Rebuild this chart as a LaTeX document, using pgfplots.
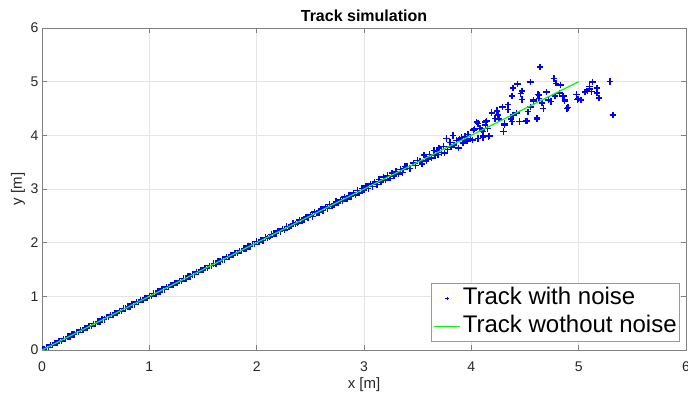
\documentclass[border=0pt]{standalone}
\usepackage{fontspec}
\setmainfont{Liberation Sans}
\usepackage{pgfplots}
\pgfplotsset{compat=1.18}
\usepackage{pgfplotstable}

\pgfplotsset{
  markleg/.style={legend image code/.code={\draw[mark repeat=2, mark phase=2, ##1, mark size=1.8pt, mark options={line width=0.9pt}] plot coordinates {(0pt,0pt) (13pt,0pt) (26pt,0pt)};}},
  lineleg/.style={legend image code/.code={\draw[##1] (0pt,0pt) -- (26pt,0pt);}},
}

\pgfplotstableread{
x y
0.00 0.01
0.02 0.01
0.04 0.05
0.06 0.05
0.08 0.09
0.10 0.09
0.12 0.13
0.14 0.13
0.16 0.17
0.18 0.17
0.20 0.21
0.22 0.21
0.24 0.25
0.26 0.25
0.28 0.29
0.30 0.29
0.32 0.33
0.34 0.33
0.36 0.37
0.38 0.37
0.40 0.41
0.42 0.41
0.44 0.45
0.46 0.45
0.48 0.49
0.50 0.49
0.52 0.53
0.54 0.53
0.56 0.57
0.58 0.57
0.60 0.61
0.62 0.61
0.64 0.65
0.66 0.65
0.68 0.69
0.70 0.69
0.72 0.73
0.74 0.73
0.76 0.77
0.78 0.77
0.80 0.81
0.82 0.81
0.84 0.85
0.86 0.85
0.88 0.89
0.90 0.89
0.92 0.93
0.94 0.93
0.96 0.97
0.98 0.97
1.00 1.01
1.02 1.01
1.04 1.05
1.06 1.05
1.08 1.09
1.10 1.09
1.12 1.13
1.14 1.13
1.16 1.17
1.18 1.17
1.20 1.21
1.22 1.21
1.24 1.25
1.26 1.25
1.28 1.29
1.30 1.29
1.32 1.33
1.34 1.33
1.36 1.37
1.38 1.37
1.40 1.41
1.42 1.41
1.44 1.45
1.46 1.45
1.48 1.49
1.50 1.49
1.52 1.53
1.54 1.53
1.56 1.57
1.58 1.57
1.60 1.61
1.62 1.61
1.64 1.65
1.66 1.65
1.68 1.69
1.70 1.69
1.72 1.73
1.74 1.73
1.76 1.77
1.78 1.77
1.80 1.81
1.82 1.81
1.84 1.85
1.86 1.85
1.88 1.89
1.90 1.89
1.92 1.93
1.94 1.93
1.96 1.97
1.98 1.97
2.00 2.02
2.02 2.01
2.04 2.05
2.06 2.04
2.08 2.10
2.10 2.09
2.12 2.11
2.14 2.15
2.16 2.17
2.18 2.17
2.20 2.22
2.22 2.21
2.24 2.25
2.26 2.24
2.28 2.30
2.30 2.29
2.32 2.31
2.34 2.36
2.36 2.35
2.38 2.37
2.40 2.42
2.42 2.41
2.44 2.43
2.46 2.48
2.48 2.47
2.50 2.52
2.52 2.49
2.54 2.57
2.56 2.55
2.58 2.56
2.60 2.63
2.62 2.60
2.64 2.66
2.66 2.64
2.68 2.71
2.70 2.68
2.72 2.70
2.74 2.77
2.76 2.74
2.78 2.80
2.80 2.78
2.82 2.85
2.84 2.81
2.86 2.88
2.88 2.86
2.90 2.93
2.92 2.89
2.94 2.97
2.96 2.93
2.98 3.01
3.00 2.98
3.02 3.06
3.04 3.01
3.06 3.09
3.08 3.05
3.10 3.13
3.12 3.08
3.14 3.18
3.16 3.13
3.18 3.22
3.20 3.17
3.22 3.25
3.24 3.20
3.26 3.30
3.28 3.24
3.30 3.33
3.32 3.28
3.34 3.36
3.36 3.31
3.37 3.37
3.38 3.42
3.40 3.42
3.43 3.38
3.46 3.48
3.48 3.44
3.50 3.53
3.52 3.52
3.54 3.47
3.56 3.63
3.58 3.60
3.58 3.52
3.60 3.56
3.61 3.64
3.63 3.58
3.65 3.72
3.66 3.62
3.68 3.70
3.69 3.64
3.70 3.76
3.72 3.68
3.74 3.79
3.75 3.67
3.77 3.94
3.78 3.74
3.80 3.87
3.81 3.78
3.83 4.00
3.84 3.82
3.86 3.90
3.88 3.76
3.89 3.93
3.91 3.96
3.92 3.86
3.94 3.98
3.96 3.89
3.97 4.02
3.99 3.93
4.01 3.91
4.02 4.10
4.03 4.12
4.05 4.25
4.06 4.22
4.06 3.94
4.08 4.13
4.10 4.10
4.11 4.07
4.11 3.96
4.11 3.99
4.13 4.19
4.13 4.25
4.14 4.27
4.15 4.13
4.16 3.98
4.17 3.99
4.19 4.42
4.19 4.43
4.22 4.31
4.24 4.45
4.24 4.46
4.25 4.38
4.26 4.30
4.29 4.53
4.30 4.07
4.31 4.22
4.31 4.19
4.34 4.57
4.34 4.48
4.37 4.30
4.38 4.73
4.38 4.26
4.39 4.88
4.39 4.38
4.42 4.42
4.43 4.96
4.45 4.26
4.46 4.78
4.47 4.83
4.47 4.67
4.51 4.27
4.52 4.27
4.53 4.44
4.55 4.99
4.55 4.53
4.58 4.63
4.58 4.66
4.61 4.30
4.61 4.32
4.62 4.76
4.63 4.75
4.63 4.69
4.64 5.27
4.66 4.60
4.67 4.50
4.70 4.81
4.72 4.66
4.74 4.63
4.77 5.06
4.78 4.73
4.79 4.97
4.82 4.79
4.83 4.94
4.85 4.73
4.86 4.73
4.87 4.64
4.87 4.67
4.89 4.50
4.90 4.52
4.98 4.76
4.99 4.67
5.00 4.68
5.02 4.66
5.06 4.81
5.08 4.83
5.10 4.86
5.10 4.91
5.12 4.82
5.13 4.99
5.17 4.79
5.17 4.88
5.19 4.70
5.29 5.00
5.32 4.38
}\noisy

\pgfplotstableread{
x y
0 0
5 5
}\clean

\begin{document}
\begin{tikzpicture}
\begin{axis}[
  at={(0,0)}, anchor=south west,
  scale only axis, width=644pt, height=322pt,
  xmin=0, xmax=6, ymin=0, ymax=6,
  xtick={0,1,2,3,4,5,6}, ytick={0,1,2,3,4,5,6},
  tick pos=both,
  clip marker paths=true,
  grid=major,
  major grid style={color=black!10, line width=0.5pt},
  axis line style={color=black!50, line width=0.6pt},
  tick style={color=black!50, line width=0.6pt},
  tick align=inside,
  major tick length=5pt,
  /pgf/number format/assume math mode=true,
  ticklabel style={font=\fontsize{14}{14}\selectfont, color=black!85},
  xticklabel style={anchor=base, yshift=-22pt},
  xlabel={x [m]}, ylabel={y [m]},
  xlabel style={at={(axis description cs:0.5,0)}, anchor=base, yshift=-39pt, font=\fontsize{15}{15}\selectfont, color=black!85},
  ylabel style={at={(axis description cs:-0.0373,0.5)}, anchor=center, font=\fontsize{15}{15}\selectfont, color=black!85},
  title={\textbf{Track simulation}},
  title style={at={(axis description cs:0.5,1)}, anchor=base, yshift=0pt, font=\fontsize{16}{16}\selectfont},
  legend cell align=left,
  legend style={at={(axis description cs:1,0)}, anchor=south east,
    xshift=-6pt, yshift=8pt,
    font=\fontsize{24}{28}\selectfont,
    draw=black!40, line width=0.6pt, fill=white,
    inner xsep=2pt, inner ysep=1pt,
    nodes={inner sep=1pt, text height=19pt, text depth=7pt},
    row sep=0pt, column sep=1pt},
]
\addplot[only marks, mark=+, color=blue, mark size=3.2pt, mark options={line width=1.5pt}, markleg]
  table[x=x, y=y] {\noisy};
\addlegendentry{Track with noise}
\addplot[color=green, line width=1.3pt, no marks, lineleg]
  table[x=x, y=y] {\clean};
\addlegendentry{Track wothout noise}
\end{axis}
\pgfresetboundingbox
\useasboundingbox ([xshift=-42pt,yshift=-47pt]current axis.south west) rectangle ([xshift=2pt,yshift=28pt]current axis.north east);
\end{tikzpicture}
\end{document}
